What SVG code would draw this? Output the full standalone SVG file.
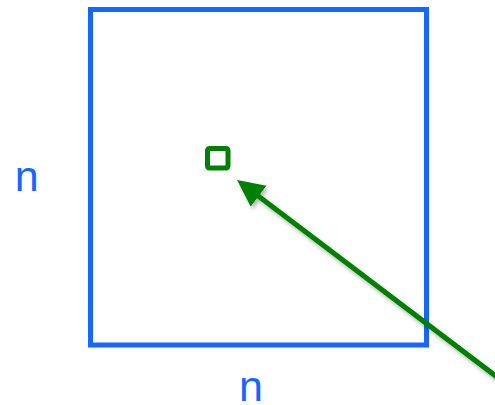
<svg xmlns="http://www.w3.org/2000/svg" width="495" height="405" viewBox="0 0 495 405">
<style>
.lbl{font-family:"Liberation Sans",Arial,sans-serif;font-size:43px;fill:#1766ff;text-anchor:middle}
</style>
<defs>
<filter id="sh" x="-20%" y="-20%" width="140%" height="140%">
<feGaussianBlur in="SourceAlpha" stdDeviation="2"/>
<feOffset dx="2" dy="3" result="b"/>
<feComponentTransfer><feFuncA type="linear" slope="0.3"/></feComponentTransfer>
<feMerge><feMergeNode/><feMergeNode in="SourceGraphic"/></feMerge>
</filter>
<marker id="ah" markerUnits="userSpaceOnUse" markerWidth="30" markerHeight="28" refX="7" refY="13" orient="auto">
<path d="M0,0 L27,13 L0,26 Z" fill="#008000"/>
</marker>
</defs>
<g id="matrix">
<rect x="90.5" y="9.5" width="336" height="335.5" fill="none" stroke="#1766ff" stroke-width="5"/>
</g>
<g id="cell">
<rect x="207.5" y="148.5" width="20.5" height="19.5" rx="2" fill="none" stroke="#008000" stroke-width="5"/>
</g>
<g id="label-left"><text class="lbl" x="26.7" y="191">n</text></g>
<g id="label-bottom"><text class="lbl" x="251" y="400.5">n</text></g>
<g id="connectors" filter="url(#sh)">
<line x1="530" y1="402" x2="253" y2="192" stroke="#008000" stroke-width="5" marker-end="url(#ah)"/>
</g>
</svg>
